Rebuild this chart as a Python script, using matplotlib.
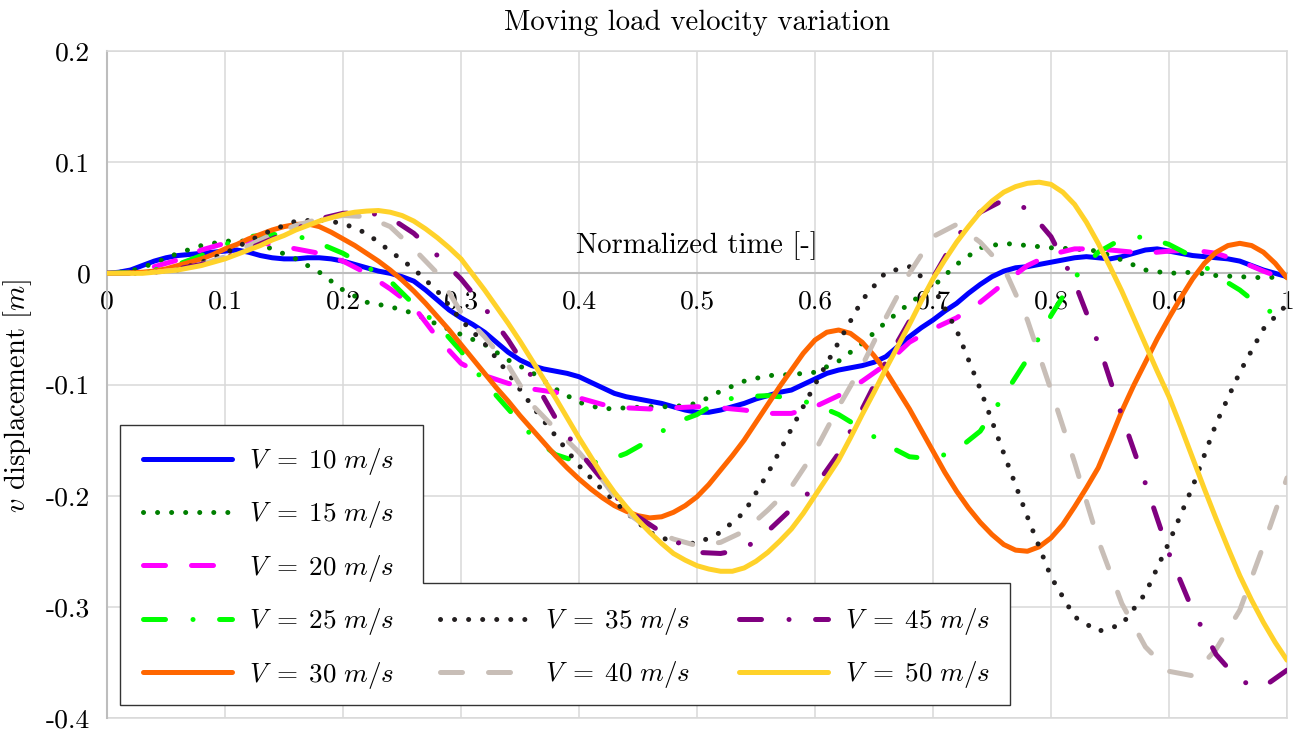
import numpy as np
import matplotlib
matplotlib.use('Agg')
import matplotlib.pyplot as plt
from matplotlib.patches import Polygon
from matplotlib.transforms import Affine2D

# normalized time samples: solid curves were read every 0.01, the others every 0.02
t_fine = np.linspace(0, 1, 101)
t = np.linspace(0, 1, 51)

v10 = [0, 0.001, 0.003, 0.007, 0.011, 0.014, 0.016, 0.017, 0.018, 0.019,
       0.020, 0.021, 0.019, 0.016, 0.014, 0.013, 0.013, 0.014, 0.014, 0.013,
       0.011, 0.008, 0.005, 0.002, 0.000, -0.003, -0.007, -0.015, -0.024, -0.033,
       -0.040, -0.046, -0.053, -0.062, -0.071, -0.078, -0.083, -0.086, -0.088, -0.090,
       -0.093, -0.098, -0.103, -0.108, -0.111, -0.113, -0.115, -0.117, -0.120, -0.123,
       -0.125, -0.125, -0.123, -0.120, -0.117, -0.113, -0.110, -0.107, -0.105, -0.100,
       -0.095, -0.090, -0.087, -0.085, -0.083, -0.080, -0.075, -0.066, -0.057, -0.049,
       -0.042, -0.034, -0.027, -0.018, -0.010, -0.003, 0.002, 0.005, 0.006, 0.008,
       0.010, 0.012, 0.014, 0.015, 0.014, 0.013, 0.015, 0.018, 0.021, 0.022,
       0.020, 0.018, 0.016, 0.015, 0.014, 0.013, 0.011, 0.007, 0.003, 0.000, -0.003]
v15 = [0, 0.002, 0.009, 0.018, 0.025, 0.029, 0.029, 0.022, 0.013, 0.001,
       -0.015, -0.026, -0.030, -0.036, -0.046, -0.055, -0.064, -0.078, -0.089, -0.104,
       -0.116, -0.122, -0.121, -0.120, -0.120, -0.117, -0.106, -0.097, -0.092, -0.091,
       -0.089, -0.079, -0.063, -0.044, -0.027, -0.012, 0.008, 0.023, 0.027, 0.025,
       0.023, 0.022, 0.020, 0.012, 0.003, 0.000, 0.001, -0.002, -0.003, -0.004, -0.003]
v20 = [0, 0.001, 0.006, 0.012, 0.021, 0.027, 0.029, 0.026, 0.022, 0.018,
       0.011, 0.000, -0.014, -0.030, -0.058, -0.081, -0.092, -0.099, -0.104, -0.107,
       -0.112, -0.118, -0.121, -0.122, -0.121, -0.120, -0.121, -0.123, -0.126, -0.126,
       -0.120, -0.110, -0.097, -0.082, -0.062, -0.050, -0.040, -0.026, -0.009, 0.007,
       0.017, 0.022, 0.022, 0.020, 0.018, 0.020, 0.021, 0.018, 0.011, 0.002, -0.006]
v25 = [0, 0.001, 0.003, 0.008, 0.016, 0.026, 0.033, 0.035, 0.034, 0.027,
       0.018, 0.006, -0.007, -0.028, -0.046, -0.070, -0.098, -0.122, -0.146, -0.163,
       -0.170, -0.170, -0.162, -0.150, -0.135, -0.127, -0.114, -0.111, -0.110, -0.112,
       -0.118, -0.127, -0.140, -0.154, -0.165, -0.167, -0.159, -0.142, -0.110, -0.077,
       -0.038, -0.004, 0.019, 0.031, 0.033, 0.026, 0.015, -0.002, -0.015, -0.032, -0.040]
v30 = [0, 0.000, 0.0005, 0.001, 0.002, 0.004, 0.007, 0.010, 0.013, 0.017,
       0.022, 0.026, 0.031, 0.035, 0.039, 0.042, 0.044, 0.0445, 0.042, 0.037,
       0.031, 0.025, 0.018, 0.011, 0.003, -0.006, -0.016, -0.027, -0.039, -0.051,
       -0.064, -0.077, -0.090, -0.103, -0.115, -0.128, -0.140, -0.152, -0.164, -0.175,
       -0.185, -0.194, -0.202, -0.209, -0.214, -0.218, -0.220, -0.219, -0.215, -0.209,
       -0.201, -0.190, -0.177, -0.164, -0.150, -0.134, -0.118, -0.102, -0.087, -0.072,
       -0.060, -0.053, -0.051, -0.054, -0.062, -0.074, -0.088, -0.105, -0.122, -0.141,
       -0.160, -0.179, -0.196, -0.211, -0.224, -0.235, -0.244, -0.249, -0.250, -0.246,
       -0.238, -0.226, -0.210, -0.193, -0.175, -0.150, -0.124, -0.101, -0.080, -0.059,
       -0.040, -0.022, -0.005, 0.009, 0.019, 0.025, 0.027, 0.025, 0.019, 0.009, -0.004]
v35 = [0, 0.000, 0.001, 0.003, 0.010, 0.018, 0.029, 0.039, 0.047, 0.048,
       0.045, 0.036, 0.020, 0.004, -0.016, -0.042, -0.063, -0.090, -0.119, -0.146,
       -0.173, -0.195, -0.215, -0.233, -0.242, -0.243, -0.233, -0.215, -0.180, -0.140,
       -0.100, -0.062, -0.024, 0.001, 0.006, -0.012, -0.051, -0.104, -0.162, -0.219,
       -0.273, -0.309, -0.322, -0.316, -0.288, -0.242, -0.192, -0.135, -0.089, -0.050, -0.028]
v40 = [0, 0.000, 0.001, 0.003, 0.008, 0.015, 0.025, 0.035, 0.043, 0.049,
       0.052, 0.051, 0.042, 0.022, 0.000, -0.035, -0.057, -0.083, -0.118, -0.140,
       -0.161, -0.186, -0.215, -0.230, -0.239, -0.245, -0.242, -0.232, -0.213, -0.192,
       -0.160, -0.120, -0.083, -0.040, 0.000, 0.033, 0.044, 0.028, 0.005, -0.042,
       -0.105, -0.170, -0.240, -0.297, -0.336, -0.358, -0.362, -0.338, -0.303, -0.245, -0.184]
v45 = [0, 0.000, 0.001, 0.004, 0.008, 0.014, 0.022, 0.031, 0.040, 0.049,
       0.054, 0.055, 0.050, 0.036, 0.016, -0.005, -0.031, -0.060, -0.093, -0.130,
       -0.160, -0.186, -0.212, -0.226, -0.240, -0.251, -0.252, -0.248, -0.232, -0.212,
       -0.192, -0.162, -0.122, -0.080, -0.043, -0.004, 0.033, 0.055, 0.066, 0.058,
       0.033, -0.008, -0.063, -0.128, -0.189, -0.252, -0.303, -0.343, -0.367, -0.372, -0.357]
v50 = [0, 0.000, 0.000, 0.000, 0.001, 0.002, 0.003, 0.005, 0.007, 0.010,
       0.013, 0.017, 0.021, 0.025, 0.030, 0.034, 0.039, 0.043, 0.047, 0.050,
       0.053, 0.055, 0.056, 0.0565, 0.055, 0.052, 0.047, 0.040, 0.032, 0.023,
       0.013, -0.001, -0.015, -0.030, -0.045, -0.061, -0.078, -0.095, -0.112, -0.130,
       -0.148, -0.165, -0.182, -0.197, -0.210, -0.222, -0.233, -0.243, -0.252, -0.258,
       -0.263, -0.266, -0.268, -0.268, -0.265, -0.259, -0.251, -0.241, -0.230, -0.216,
       -0.200, -0.184, -0.168, -0.148, -0.127, -0.107, -0.086, -0.066, -0.046, -0.025,
       -0.005, 0.012, 0.028, 0.042, 0.055, 0.065, 0.073, 0.078, 0.081, 0.082,
       0.080, 0.073, 0.062, 0.046, 0.027, 0.006, -0.016, -0.040, -0.064, -0.088,
       -0.111, -0.138, -0.166, -0.194, -0.221, -0.247, -0.272, -0.294, -0.314, -0.332, -0.348]

series = [v10, v15, v20, v25, v30, v35, v40, v45, v50]
times = [t_fine, t, t, t, t_fine, t, t, t, t_fine]
speeds = [10, 15, 20, 25, 30, 35, 40, 45, 50]
colors = ['#0000ff', '#007f00', '#ff00ff', '#00ff00', '#ff6600',
          '#231f20', '#c8beb7', '#800080', '#ffd22a']
styles = ['solid', 'dotted', 'dashed', 'dashdot', 'solid',
          'dotted', 'dashed', 'dashdot', 'solid']

xticks = [0, 0.1, 0.2, 0.3, 0.4, 0.5, 0.6, 0.7, 0.8, 0.9, 1.0]
xticklabels = ['0', '0.1', '0.2', '0.3', '0.4', '0.5', '0.6', '0.7', '0.8', '0.9', '1']
yticks = [0.2, 0.1, 0, -0.1, -0.2, -0.3, -0.4]
yticklabels = ['0.2', '0.1', '0', '-0.1', '-0.2', '-0.3', '-0.4']

dash = {
    'solid': '-',
    'dotted': (0, (0.01, 2.8)),
    'dashed': (0, (4.4, 5.2)),
    'dashdot': (0, (4.4, 5.5, 0.01, 5.3)),
}

plt.rcParams['font.family'] = 'cmr10'
plt.rcParams['mathtext.fontset'] = 'cm'
plt.rcParams['axes.unicode_minus'] = False
plt.rcParams['font.size'] = 19.8

W, H = 1307, 733
fig = plt.figure(figsize=(W / 100, H / 100), dpi=100)
ax = fig.add_axes([107 / W, 1 - 718 / H, 1180 / W, 667 / H])
px = Affine2D().scale(1 / W, -1 / H).translate(0, 1) + fig.transFigure

grid_c = '#d9d9d9'
axis_c = '#bdbdbd'

lines = []
for x, v, c, s, sp in zip(times, series, colors, styles, speeds):
    ln, = ax.plot(x, v, color=c, lw=3.6, linestyle=dash[s],
                  solid_capstyle='round', dash_capstyle='round',
                  label=r'$V\;=\;%d\ m/s$' % sp, zorder=3)
    lines.append(ln)

ax.set_xticks(xticks)
ax.set_xticklabels(xticklabels)
ax.set_yticks(yticks)
ax.set_yticklabels(yticklabels)
ax.tick_params(axis='x', length=0, pad=12)
ax.tick_params(axis='y', length=0, pad=12)
ax.grid(True, color=grid_c, lw=1.1, zorder=0)
ax.set_axisbelow(True)

ax.spines['bottom'].set_position(('data', 0))
for s in ['left', 'bottom']:
    ax.spines[s].set_color(axis_c)
    ax.spines[s].set_linewidth(1.5)
for s in ['top', 'right']:
    ax.spines[s].set_color(grid_c)
    ax.spines[s].set_linewidth(1.1)
ax.axhline(-0.4, color=grid_c, lw=1.1, clip_on=False, zorder=0)

ax.set_title('Moving load velocity variation', fontsize=20.8, pad=15)
ax.set_xlabel('Normalized time [-]', fontsize=20.6)
ax.xaxis.set_label_coords(0.5, 0.73)
ax.set_ylabel(r'$v$ displacement $[m]$', fontsize=20.6)
ax.yaxis.set_label_coords(-0.062, 0.483)

# legend: first column on its own, the last two rows extended to the right
leg_kw = dict(loc='upper left', bbox_transform=px, frameon=False, fontsize=19.5,
              borderaxespad=0, borderpad=0, handlelength=3.28,
              handletextpad=0.62, labelspacing=0.83)
leg1 = ax.legend(handles=lines[:5], bbox_to_anchor=(143, 446), **leg_kw)
ax.add_artist(leg1)
leg2 = ax.legend(handles=lines[5:], ncol=2, columnspacing=1.8,
                 bbox_to_anchor=(439.5, 606), **leg_kw)

frame = Polygon([(120, 425), (423, 425), (423, 583), (1010, 583),
                 (1010, 705), (120, 705)], closed=True, transform=px,
                facecolor='white', edgecolor='#333333', lw=1.0,
                zorder=4.5, clip_on=False)
ax.add_patch(frame)

ax.set_xlim(0, 1)
ax.set_ylim(-0.4, 0.2)

fig.savefig('out.png', dpi=100)
